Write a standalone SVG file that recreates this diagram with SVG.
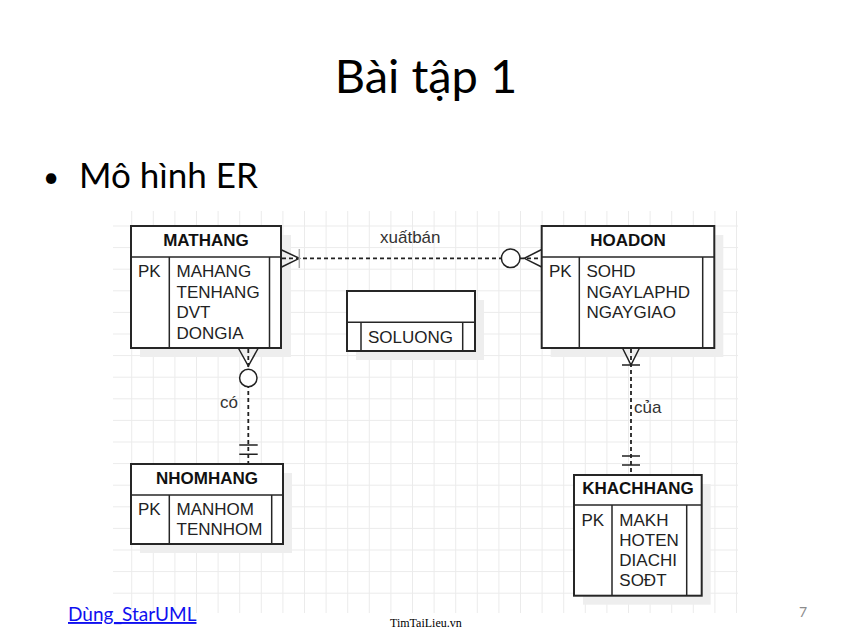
<svg xmlns="http://www.w3.org/2000/svg" width="851" height="637" viewBox="0 0 851 637">
<defs>
<pattern id="grid" patternUnits="userSpaceOnUse" x="131.2" y="225.5" width="21.6" height="21.6">
<path d="M0.5,0 V21.6 M0,0.5 H21.6" stroke="#ebebeb" stroke-width="1" fill="none"/>
</pattern>
</defs>
<style>
.ent{fill:#fff;stroke:#262626;stroke-width:2}
.dv{stroke:#262626;stroke-width:1.5}
.sh{fill:#eeeeee}
.hd{font-family:"Liberation Sans",Arial,sans-serif;font-weight:bold;font-size:17px;fill:#111;text-anchor:middle}
.at{font-family:"Liberation Sans",Arial,sans-serif;font-size:17px;fill:#222}
.ln{stroke:#222;stroke-width:1.8;stroke-dasharray:4 3;fill:none}
.cf{stroke:#222;stroke-width:1.5;fill:none}
.lb{font-family:"Liberation Sans",Arial,sans-serif;font-size:17px;fill:#333}
.ttl{font-family:Lato,"Open Sans",sans-serif;fill:#000}
</style>
<rect width="851" height="637" fill="#fff"/>
<text class="ttl" x="426" y="93" font-size="47" text-anchor="middle">Bài tập 1</text>
<text class="ttl" x="43" y="187" font-size="28">•</text>
<text class="ttl" x="79" y="188" font-size="35">Mô hình ER</text>
<rect x="113" y="211" width="625" height="402" fill="url(#grid)"/>
<g id="MATHANG">
<rect class="sh" x="140" y="235" width="151" height="122"/>
<rect class="ent" x="131" y="226" width="150" height="122"/>
<line class="dv" x1="131" y1="257" x2="281" y2="257"/>
<line class="dv" x1="169.3" y1="257" x2="169.3" y2="348"/>
<line class="dv" x1="269.5" y1="257" x2="269.5" y2="348"/>
<text class="hd" x="206" y="246">MATHANG</text>
<text class="at" x="138" y="277">PK</text>
<text class="at" x="176.5" y="277">MAHANG</text>
<text class="at" x="176.5" y="297.7">TENHANG</text>
<text class="at" x="176.5" y="318.3">DVT</text>
<text class="at" x="176.5" y="339">DONGIA</text>
</g>
<g id="HOADON">
<rect class="sh" x="550.7" y="235" width="172.6" height="122"/>
<rect class="ent" x="541.7" y="226" width="172.6" height="122"/>
<line class="dv" x1="541.7" y1="257" x2="714.3" y2="257"/>
<line class="dv" x1="579.3" y1="257" x2="579.3" y2="348"/>
<line class="dv" x1="702.7" y1="257" x2="702.7" y2="348"/>
<text class="hd" x="628" y="246">HOADON</text>
<text class="at" x="549" y="277">PK</text>
<text class="at" x="586.5" y="277">SOHD</text>
<text class="at" x="586.5" y="297.7">NGAYLAPHD</text>
<text class="at" x="586.5" y="318.3">NGAYGIAO</text>
</g>
<g id="SOLUONG-assoc">
<rect class="sh" x="356" y="300" width="128" height="60"/>
<rect class="ent" x="347" y="291" width="128" height="60"/>
<line class="dv" x1="347" y1="322.3" x2="475" y2="322.3"/>
<line class="dv" x1="361" y1="322.3" x2="361" y2="351"/>
<line class="dv" x1="462.7" y1="322.3" x2="462.7" y2="351"/>
<text class="at" x="368" y="342.7">SOLUONG</text>
</g>
<g id="NHOMHANG">
<rect class="sh" x="140" y="473" width="152" height="80"/>
<rect class="ent" x="131" y="464" width="152" height="80"/>
<line class="dv" x1="131" y1="495" x2="283" y2="495"/>
<line class="dv" x1="169.3" y1="495" x2="169.3" y2="544"/>
<line class="dv" x1="271.7" y1="495" x2="271.7" y2="544"/>
<text class="hd" x="207" y="483.5">NHOMHANG</text>
<text class="at" x="138" y="515">PK</text>
<text class="at" x="176.5" y="515">MANHOM</text>
<text class="at" x="176.5" y="535">TENNHOM</text>
</g>
<g id="KHACHHANG">
<rect class="sh" x="583" y="484" width="127.7" height="120.7"/>
<rect class="ent" x="574" y="475" width="127.7" height="120.7"/>
<line class="dv" x1="574" y1="505" x2="701.7" y2="505"/>
<line class="dv" x1="612" y1="505" x2="612" y2="595.7"/>
<line class="dv" x1="686.7" y1="505" x2="686.7" y2="595.7" stroke="#777"/>
<text class="hd" x="638" y="494">KHACHHANG</text>
<text class="at" x="581.5" y="525.7">PK</text>
<text class="at" x="619.3" y="525.7">MAKH</text>
<text class="at" x="619.3" y="545.7">HOTEN</text>
<text class="at" x="619.3" y="565.7">DIACHI</text>
<text class="at" x="619.3" y="585.7">SOĐT</text>
</g>
<g id="connectors">
<g id="c-xuatban">
<line class="ln" x1="282" y1="258.3" x2="541" y2="258.3"/>
<path class="cf" d="M281.7,250 L299.3,258.3 L281.7,267"/>
<line x1="299.3" y1="249" x2="299.3" y2="268" stroke="#aaa" stroke-width="1.5"/>
<circle cx="510.7" cy="258.3" r="9.3" fill="#fff" stroke="#222" stroke-width="1.5"/>
<path class="cf" d="M541.7,249.5 L524.3,258.3 L541.7,267"/>
<text class="lb" x="380" y="243">xuấtbán</text>
</g>
<g id="c-co">
<line class="ln" x1="248.3" y1="349" x2="248.3" y2="463"/>
<path class="cf" d="M238.3,348 L248.3,366 L258.3,348"/>
<circle cx="248.3" cy="378" r="8.7" fill="#fff" stroke="#222" stroke-width="1.5"/>
<path class="cf" d="M239.3,445 H257.7 M239.3,454.3 H257.7"/>
<text class="lb" x="220" y="408">có</text>
</g>
<g id="c-cua">
<line class="ln" x1="631" y1="349" x2="631" y2="474"/>
<path class="cf" d="M622.5,348 L631,365 L639.5,348 M622,365 H640"/>
<path class="cf" d="M622,456 H640 M622,465 H640"/>
<text class="lb" x="634" y="413">của</text>
</g>
</g>
<text class="ttl" x="68" y="621" font-size="19" text-decoration="underline" style="fill:#1010f0">Dùng_StarUML</text>
<text x="390" y="627" font-family="'Liberation Serif',serif" font-size="12" fill="#000">TimTaiLieu.vn</text>
<text x="799" y="617" font-family="Lato,sans-serif" font-size="14" fill="#8c8c8c">7</text>
</svg>
